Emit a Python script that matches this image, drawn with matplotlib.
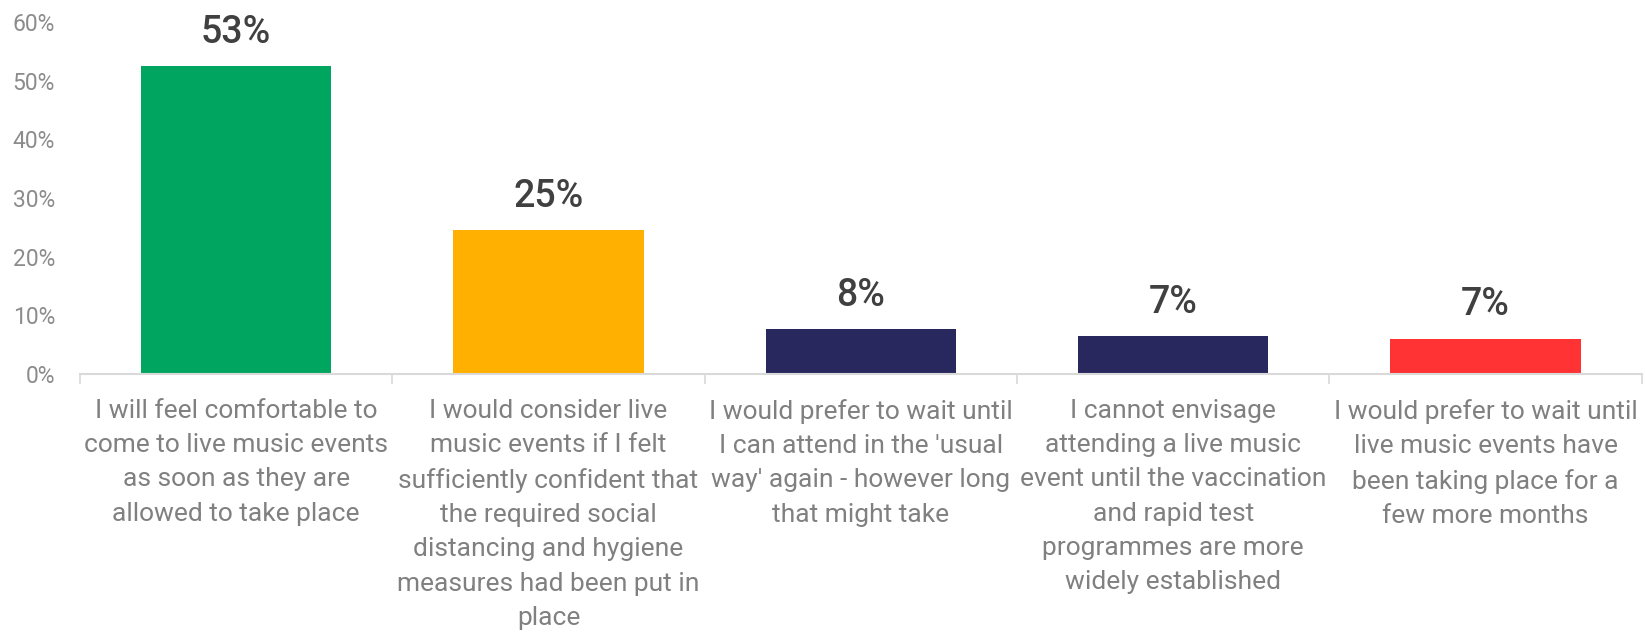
import numpy as np
import matplotlib
matplotlib.use("Agg")
import matplotlib.pyplot as plt

# survey answers, values
categories = [
    "I will feel comfortable to\ncome to live music events\nas soon as they are\nallowed to take place",
    "I would consider live\nmusic events if I felt\nsufficiently confident that\nthe required social\ndistancing and hygiene\nmeasures had been put in\nplace",
    "I would prefer to wait until\nI can attend in the 'usual\nway' again - however long\nthat might take",
    "I cannot envisage\nattending a live music\nevent until the vaccination\nand rapid test\nprogrammes are more\nwidely established",
    "I would prefer to wait until\nlive music events have\nbeen taking place for a\nfew more months",
]
values = [52.5, 24.5, 7.6, 6.4, 6.0]
value_labels = ["53%", "25%", "8%", "7%", "7%"]
colors = ["#00A65F", "#FFB000", "#28285E", "#28285E", "#FF3333"]
yticks = [0, 10, 20, 30, 40, 50, 60]

plt.rcParams['font.family'] = ['Roboto', 'DejaVu Sans']

fig = plt.figure(figsize=(16.45, 6.36), dpi=100)
ax = fig.add_axes([0.0486, 0.412, 0.9494, 0.5535])

x = np.arange(len(categories))
bars = ax.bar(x, values, width=0.61, color=colors)

# value labels above bars
for b, lab in zip(bars, value_labels):
    ax.annotate(lab, (b.get_x() + b.get_width() / 2, b.get_height()),
                xytext=(0, 11), textcoords="offset points",
                ha="center", va="bottom", fontsize=27, color="#404040",
                fontweight="medium")

ax.set_ylim(0, 60)
ax.set_xlim(-0.5, len(categories) - 0.5)
ax.set_yticks(yticks)
ax.set_yticklabels([f"{t}%" for t in yticks], fontsize=16.5, color="#8C8C8C")
ax.tick_params(axis="y", length=0, pad=18)

ax.set_xticks(x)
ax.set_xticklabels(categories, fontsize=19, color="#808080", linespacing=1.54)
ax.tick_params(axis="x", which="major", length=0, pad=18)
# divider ticks between categories
ax.set_xticks(np.arange(-0.5, len(categories), 1.0), minor=True)
ax.tick_params(axis="x", which="minor", length=7, color="#D9D9D9", width=1.2)

for s in ["top", "right", "left"]:
    ax.spines[s].set_visible(False)
ax.spines["bottom"].set_color("#D9D9D9")
ax.spines["bottom"].set_linewidth(1.5)

fig.savefig("out.png", dpi=100)
